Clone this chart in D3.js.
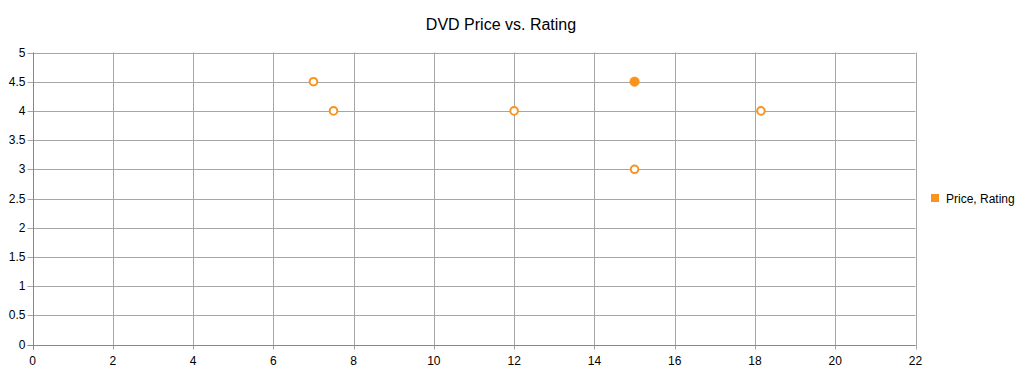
<!DOCTYPE html>
<html><head><meta charset="utf-8">
<script src="https://cdn.jsdelivr.net/npm/d3@7"></script>
<style>body{margin:0;background:#fff}svg{display:block}text{font-family:"Liberation Sans",Arial,sans-serif}</style>
</head><body>
<svg id="c" width="1025" height="377"></svg>
<script>
const title = "DVD Price vs. Rating";
const seriesName = "Price, Rating";
const prices = [7, 7.5, 12, 15, 15, 18.15];
const ratings = [4.5, 4, 4, 4.5, 3, 4];
const xTicks = [0,2,4,6,8,10,12,14,16,18,20,22];
const yTicks = [0,0.5,1,1.5,2,2.5,3,3.5,4,4.5,5];

const svg = d3.select("#c");
const L = 32.5, R = 915.5, T = 52.5, B = 344.5;
const x = d3.scaleLinear().domain([0,22]).range([L,R]);
const y = d3.scaleLinear().domain([0,5]).range([B,T]);
const orange = "#F7931E";

// grid
svg.append("g").selectAll("line.v").data(xTicks).join("line")
  .attr("x1",d=>Math.round(x(d))+0.5).attr("x2",d=>Math.round(x(d))+0.5)
  .attr("y1",T).attr("y2",B+5).attr("stroke","#a6a6a6").attr("stroke-width",1);
svg.append("g").selectAll("line.h").data(yTicks).join("line")
  .attr("y1",d=>Math.round(y(d))+0.5).attr("y2",d=>Math.round(y(d))+0.5)
  .attr("x1",L-5).attr("x2",R).attr("stroke","#a6a6a6").attr("stroke-width",1);
// axes
svg.append("line").attr("x1",Math.round(L)+0.5).attr("x2",Math.round(L)+0.5).attr("y1",T).attr("y2",B+5).attr("stroke","#878787");
svg.append("line").attr("x1",L-5).attr("x2",R).attr("y1",Math.round(B)+0.5).attr("y2",Math.round(B)+0.5).attr("stroke","#878787");

// tick labels
svg.append("g").selectAll("text").data(xTicks).join("text")
  .attr("x",d=>x(d)).attr("y",B+20).attr("text-anchor","middle")
  .attr("font-size",12).attr("fill","#000").text(d=>d);
svg.append("g").selectAll("text").data(yTicks).join("text")
  .attr("x",L-7).attr("y",d=>y(d)+4).attr("text-anchor","end")
  .attr("font-size",12).attr("fill","#000").text(d=>d);

// title
svg.append("text").attr("x",501).attr("y",30).attr("text-anchor","middle")
  .attr("font-size",16).attr("fill","#000").text(title);

// points
const pts = prices.map((p,i)=>({x:p,y:ratings[i],i}));
svg.append("g").selectAll("circle").data(pts).join("circle")
  .attr("cx",d=>x(d.x)).attr("cy",d=>y(d.y))
  .attr("r",d=>d.i===3?4.8:3.8)
  .attr("fill",d=>d.i===3?orange:"#fff")
  .attr("stroke",orange).attr("stroke-width",d=>d.i===3?0.5:2);

// legend
svg.append("rect").attr("x",931).attr("y",194).attr("width",8).attr("height",8).attr("fill",orange);
svg.append("text").attr("x",946).attr("y",203).attr("font-size",12).attr("fill","#000").text(seriesName);
</script>
</body></html>
